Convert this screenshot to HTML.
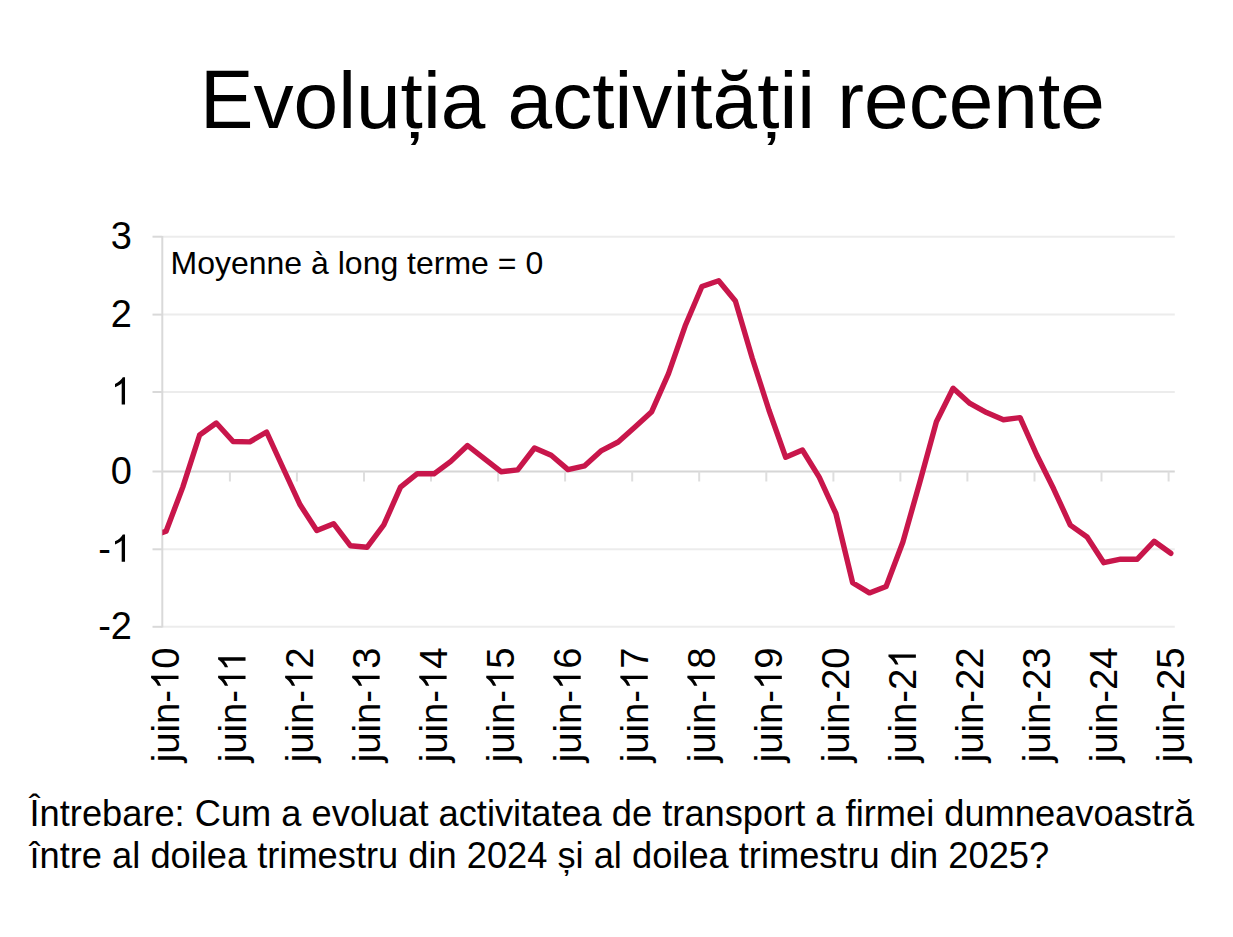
<!DOCTYPE html>
<html><head><meta charset="utf-8"><style>
html,body{margin:0;padding:0;background:#fff;width:1233px;height:937px;overflow:hidden}
body{position:relative;font-family:"Liberation Sans",sans-serif;color:#000;font-kerning:none}
.t{position:absolute;white-space:nowrap;line-height:1}
#title{left:200px;top:60px;font-size:80.2px}
#q{left:29.5px;top:793px;font-size:36.25px;line-height:41.7px}
span.c{display:inline-block;transform:scaleY(1.04);transform-origin:50% 0.8465em}
svg{position:absolute;left:0;top:0;font-kerning:none}
</style></head><body>
<div class="t" id="title"><span class="c">E</span>voluția activității recente</div>
<svg width="1233" height="937" viewBox="0 0 1233 937" font-family="Liberation Sans, sans-serif">
<defs><clipPath id="c"><rect x="162.3" y="200" width="1020" height="450"/></clipPath></defs>
<line x1="162.3" y1="236.7" x2="1174.8" y2="236.7" stroke="#ececec" stroke-width="2"/>
<line x1="152.5" y1="236.7" x2="162.3" y2="236.7" stroke="#d9d9d9" stroke-width="2"/>
<line x1="162.3" y1="314.6" x2="1174.8" y2="314.6" stroke="#ececec" stroke-width="2"/>
<line x1="152.5" y1="314.6" x2="162.3" y2="314.6" stroke="#d9d9d9" stroke-width="2"/>
<line x1="162.3" y1="392.0" x2="1174.8" y2="392.0" stroke="#ececec" stroke-width="2"/>
<line x1="152.5" y1="392.0" x2="162.3" y2="392.0" stroke="#d9d9d9" stroke-width="2"/>
<line x1="162.3" y1="471.5" x2="1174.8" y2="471.5" stroke="#d6d6d6" stroke-width="2"/>
<line x1="152.5" y1="471.5" x2="162.3" y2="471.5" stroke="#d9d9d9" stroke-width="2"/>
<line x1="162.3" y1="549.3" x2="1174.8" y2="549.3" stroke="#ececec" stroke-width="2"/>
<line x1="152.5" y1="549.3" x2="162.3" y2="549.3" stroke="#d9d9d9" stroke-width="2"/>
<line x1="162.3" y1="626.8" x2="1174.8" y2="626.8" stroke="#ececec" stroke-width="2"/>
<line x1="152.5" y1="626.8" x2="162.3" y2="626.8" stroke="#d9d9d9" stroke-width="2"/>

<line x1="162.3" y1="236" x2="162.3" y2="627.5" stroke="#d9d9d9" stroke-width="2"/>
<line x1="229.9" y1="471.5" x2="229.9" y2="481.5" stroke="#dedede" stroke-width="2"/>
<line x1="296.9" y1="471.5" x2="296.9" y2="481.5" stroke="#dedede" stroke-width="2"/>
<line x1="364.0" y1="471.5" x2="364.0" y2="481.5" stroke="#dedede" stroke-width="2"/>
<line x1="431.0" y1="471.5" x2="431.0" y2="481.5" stroke="#dedede" stroke-width="2"/>
<line x1="498.1" y1="471.5" x2="498.1" y2="481.5" stroke="#dedede" stroke-width="2"/>
<line x1="565.1" y1="471.5" x2="565.1" y2="481.5" stroke="#dedede" stroke-width="2"/>
<line x1="632.2" y1="471.5" x2="632.2" y2="481.5" stroke="#dedede" stroke-width="2"/>
<line x1="699.2" y1="471.5" x2="699.2" y2="481.5" stroke="#dedede" stroke-width="2"/>
<line x1="766.3" y1="471.5" x2="766.3" y2="481.5" stroke="#dedede" stroke-width="2"/>
<line x1="833.4" y1="471.5" x2="833.4" y2="481.5" stroke="#dedede" stroke-width="2"/>
<line x1="900.4" y1="471.5" x2="900.4" y2="481.5" stroke="#dedede" stroke-width="2"/>
<line x1="967.4" y1="471.5" x2="967.4" y2="481.5" stroke="#dedede" stroke-width="2"/>
<line x1="1034.5" y1="471.5" x2="1034.5" y2="481.5" stroke="#dedede" stroke-width="2"/>
<line x1="1101.5" y1="471.5" x2="1101.5" y2="481.5" stroke="#dedede" stroke-width="2"/>
<line x1="1168.6" y1="471.5" x2="1168.6" y2="481.5" stroke="#dedede" stroke-width="2"/>

<g font-size="38" fill="#000">
<text x="132" y="249.2" text-anchor="end">3</text>
<text x="132" y="327.1" text-anchor="end">2</text>
<text x="132" y="404.5" text-anchor="end"> </text>
<path d="M763,0L583,0L583,1147Q518,1085 412,1023Q306,961 223,930L223,1104Q373,1175 485,1276Q597,1377 643,1466L763,1466Z" transform="translate(110.87,404.50) scale(0.01855,-0.01855)"/>
<text x="132" y="484.0" text-anchor="end">0</text>
<text x="132" y="561.8" text-anchor="end">- </text>
<path d="M763,0L583,0L583,1147Q518,1085 412,1023Q306,961 223,930L223,1104Q373,1175 485,1276Q597,1377 643,1466L763,1466Z" transform="translate(110.87,561.80) scale(0.01855,-0.01855)"/>
<text x="132" y="639.3" text-anchor="end">-2</text>

</g>
<text x="170.5" y="273.5" font-size="32">Moyenne à long terme = 0</text>
<polyline clip-path="url(#c)" points="149.4,537.3 166.1,531.2 182.8,487.1 199.6,435.0 216.3,423.0 233.1,441.5 249.8,441.9 266.6,432.0 283.3,468.5 300.1,504.8 316.8,530.5 333.6,523.7 350.3,545.7 367.0,547.3 383.8,524.9 400.5,487.2 417.3,473.6 434.0,473.8 450.8,461.4 467.5,445.5 484.3,458.7 501.0,471.7 517.7,469.9 534.5,448.0 551.2,455.3 568.0,469.6 584.7,465.8 601.5,450.6 618.2,442.0 635.0,427.1 651.7,411.7 668.5,373.6 685.2,325.8 701.9,286.5 718.7,280.8 735.4,300.9 752.2,358.0 768.9,410.0 785.7,457.3 802.4,450.0 819.2,477.1 835.9,513.5 852.6,582.7 869.4,592.9 886.1,586.5 902.9,542.0 919.6,483.0 936.4,421.7 953.1,388.2 969.9,403.4 986.6,412.6 1003.4,419.7 1020.1,417.6 1036.8,455.0 1053.6,488.8 1070.3,525.1 1087.1,537.0 1103.8,562.7 1120.6,559.2 1137.3,559.2 1154.1,541.3 1170.8,553.3" fill="none" stroke="#c8164b" stroke-width="5.4" stroke-linejoin="round" stroke-linecap="round"/>
<g font-size="38.3" fill="#000">
<g transform="translate(178.50,647.4) rotate(-90)"><text x="-114.97" y="0">juin- 0</text><path d="M763,0L583,0L583,1147Q518,1085 412,1023Q306,961 223,930L223,1104Q373,1175 485,1276Q597,1377 643,1466L763,1466Z" transform="translate(-42.60,0.00) scale(0.01870,-0.01870)"/></g>
<g transform="translate(245.53,647.4) rotate(-90)"><text x="-114.97" y="0">juin-  </text><path d="M763,0L583,0L583,1147Q518,1085 412,1023Q306,961 223,930L223,1104Q373,1175 485,1276Q597,1377 643,1466L763,1466Z" transform="translate(-42.60,0.00) scale(0.01870,-0.01870)"/><path d="M763,0L583,0L583,1147Q518,1085 412,1023Q306,961 223,930L223,1104Q373,1175 485,1276Q597,1377 643,1466L763,1466Z" transform="translate(-24.14,0.00) scale(0.01870,-0.01870)"/></g>
<g transform="translate(312.57,647.4) rotate(-90)"><text x="-114.97" y="0">juin- 2</text><path d="M763,0L583,0L583,1147Q518,1085 412,1023Q306,961 223,930L223,1104Q373,1175 485,1276Q597,1377 643,1466L763,1466Z" transform="translate(-42.60,0.00) scale(0.01870,-0.01870)"/></g>
<g transform="translate(379.61,647.4) rotate(-90)"><text x="-114.97" y="0">juin- 3</text><path d="M763,0L583,0L583,1147Q518,1085 412,1023Q306,961 223,930L223,1104Q373,1175 485,1276Q597,1377 643,1466L763,1466Z" transform="translate(-42.60,0.00) scale(0.01870,-0.01870)"/></g>
<g transform="translate(446.64,647.4) rotate(-90)"><text x="-114.97" y="0">juin- 4</text><path d="M763,0L583,0L583,1147Q518,1085 412,1023Q306,961 223,930L223,1104Q373,1175 485,1276Q597,1377 643,1466L763,1466Z" transform="translate(-42.60,0.00) scale(0.01870,-0.01870)"/></g>
<g transform="translate(513.67,647.4) rotate(-90)"><text x="-114.97" y="0">juin- 5</text><path d="M763,0L583,0L583,1147Q518,1085 412,1023Q306,961 223,930L223,1104Q373,1175 485,1276Q597,1377 643,1466L763,1466Z" transform="translate(-42.60,0.00) scale(0.01870,-0.01870)"/></g>
<g transform="translate(580.71,647.4) rotate(-90)"><text x="-114.97" y="0">juin- 6</text><path d="M763,0L583,0L583,1147Q518,1085 412,1023Q306,961 223,930L223,1104Q373,1175 485,1276Q597,1377 643,1466L763,1466Z" transform="translate(-42.60,0.00) scale(0.01870,-0.01870)"/></g>
<g transform="translate(647.75,647.4) rotate(-90)"><text x="-114.97" y="0">juin- 7</text><path d="M763,0L583,0L583,1147Q518,1085 412,1023Q306,961 223,930L223,1104Q373,1175 485,1276Q597,1377 643,1466L763,1466Z" transform="translate(-42.60,0.00) scale(0.01870,-0.01870)"/></g>
<g transform="translate(714.78,647.4) rotate(-90)"><text x="-114.97" y="0">juin- 8</text><path d="M763,0L583,0L583,1147Q518,1085 412,1023Q306,961 223,930L223,1104Q373,1175 485,1276Q597,1377 643,1466L763,1466Z" transform="translate(-42.60,0.00) scale(0.01870,-0.01870)"/></g>
<g transform="translate(781.81,647.4) rotate(-90)"><text x="-114.97" y="0">juin- 9</text><path d="M763,0L583,0L583,1147Q518,1085 412,1023Q306,961 223,930L223,1104Q373,1175 485,1276Q597,1377 643,1466L763,1466Z" transform="translate(-42.60,0.00) scale(0.01870,-0.01870)"/></g>
<g transform="translate(848.85,647.4) rotate(-90)"><text x="-114.97" y="0">juin-20</text></g>
<g transform="translate(915.88,647.4) rotate(-90)"><text x="-114.97" y="0">juin-2 </text><path d="M763,0L583,0L583,1147Q518,1085 412,1023Q306,961 223,930L223,1104Q373,1175 485,1276Q597,1377 643,1466L763,1466Z" transform="translate(-21.30,0.00) scale(0.01870,-0.01870)"/></g>
<g transform="translate(982.92,647.4) rotate(-90)"><text x="-114.97" y="0">juin-22</text></g>
<g transform="translate(1049.95,647.4) rotate(-90)"><text x="-114.97" y="0">juin-23</text></g>
<g transform="translate(1116.99,647.4) rotate(-90)"><text x="-114.97" y="0">juin-24</text></g>
<g transform="translate(1184.03,647.4) rotate(-90)"><text x="-114.97" y="0">juin-25</text></g>

</g>
</svg>
<div class="t" id="q"><span class="c">Î</span>ntrebare: <span class="c">C</span>um a evoluat activitatea de transport a firmei dumneavoastră<br>între al doilea trimestru din <span class="c">2024</span> și al doilea trimestru din <span class="c">2025?</span></div>
</body></html>
